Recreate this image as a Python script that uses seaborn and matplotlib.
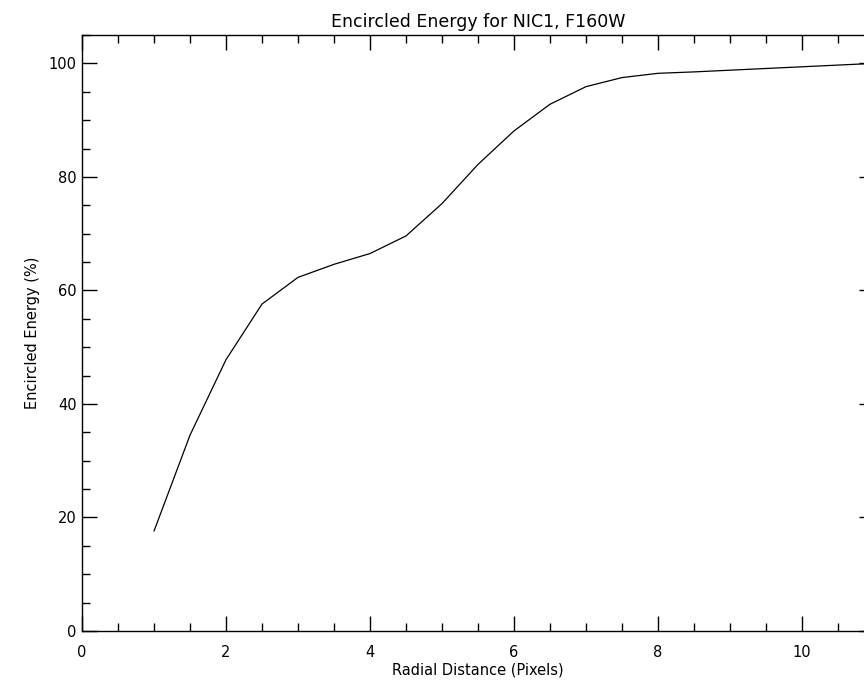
import numpy as np
import pandas as pd
import matplotlib
matplotlib.use("Agg")
import matplotlib.pyplot as plt
from matplotlib.ticker import MultipleLocator
import seaborn as sns

# encircled energy curve
radius_px = [1.0, 1.5, 2.0, 2.5, 3.0, 3.5, 4.0, 4.5, 5.0, 5.5, 6.0, 6.5,
             7.0, 7.5, 8.0, 8.5, 9.0, 9.5, 10.0, 10.5, 11.0]
energy_pct = [17.6, 34.5, 47.8, 57.6, 62.3, 64.6, 66.5, 69.6, 75.3, 82.2, 88.1, 92.8,
              95.9, 97.5, 98.25, 98.5, 98.8, 99.1, 99.4, 99.7, 100.0]

df = pd.DataFrame({"radius": radius_px, "energy": energy_pct})

sns.set_style("ticks")
plt.rcParams["font.family"] = ["DejaVu Sans"]
plt.rcParams["text.color"] = "black"
plt.rcParams["axes.labelcolor"] = "black"
plt.rcParams["xtick.color"] = "black"
plt.rcParams["ytick.color"] = "black"

fig = plt.figure(figsize=(8.64, 6.84), dpi=100)
# IDL-style frame; right edge runs slightly past the figure like the original
ax = fig.add_axes([82 / 864, 1 - 631 / 684, 792 / 864, 596 / 684])

sns.lineplot(data=df, x="radius", y="energy", ax=ax, color="black",
             linewidth=0.9, estimator=None)

ax.set_xlim(0, 11)
ax.set_ylim(0, 105)
ax.xaxis.set_major_locator(MultipleLocator(2))
ax.xaxis.set_minor_locator(MultipleLocator(0.5))
ax.yaxis.set_major_locator(MultipleLocator(20))
ax.yaxis.set_minor_locator(MultipleLocator(5))

ax.tick_params(which="both", direction="in", top=True, right=True,
               color="black", labelcolor="black", width=1)
ax.tick_params(which="major", length=11)
ax.tick_params(which="minor", length=6)
ax.tick_params(axis="x", which="major", pad=10, labelsize=10.5)
ax.tick_params(axis="y", which="major", pad=4, labelsize=10.5)
for s in ax.spines.values():
    s.set_color("black")
    s.set_linewidth(1)

ax.set_xlabel("Radial Distance (Pixels)", fontsize=10.5, labelpad=2, color="black")
ax.set_ylabel("Encircled Energy (%)", fontsize=10.5, labelpad=6, color="black")
ax.set_title("Encircled Energy for NIC1, F160W", fontsize=12.5, pad=6, color="black")

fig.savefig("out.png", dpi=100)
